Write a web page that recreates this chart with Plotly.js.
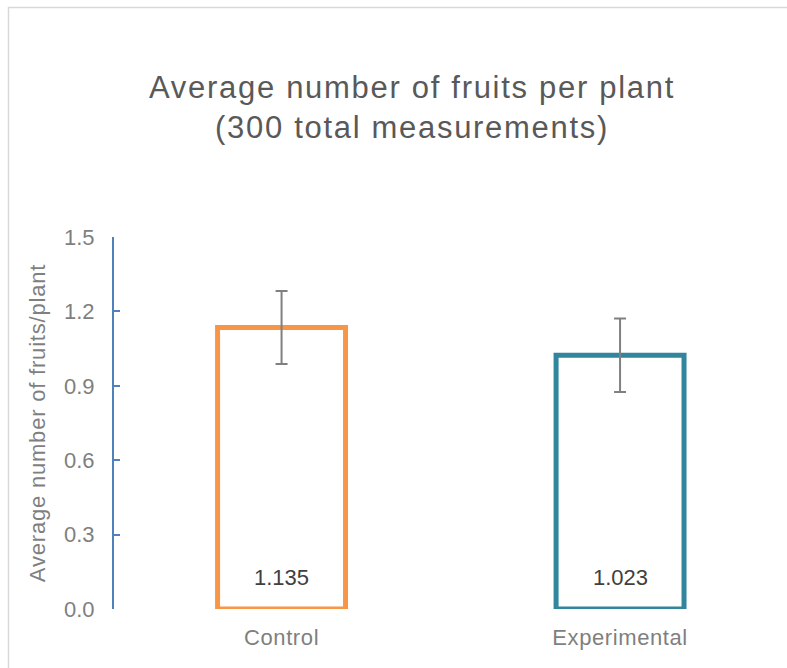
<!DOCTYPE html>
<html>
<head>
<meta charset="utf-8">
<script src="https://cdn.plot.ly/plotly-3.0.1.min.js"></script>
<style>
html,body{margin:0;padding:0;background:#fff;}
#chart{width:787px;height:668px;}
.gtitle{letter-spacing:1.7px;}
.ytitle{letter-spacing:0.8px;}
.xtick text{letter-spacing:0.6px;}
</style>
</head>
<body>
<div id="chart"></div>
<script>
var categories = ["Control", "Experimental"];
var values = [1.135, 1.023];
var errors = [0.147, 0.148];
var barColors = ["#F79646", "#31859C"];
var yTicks = [0, 0.3, 0.6, 0.9, 1.2, 1.5];
var yTickLabels = ["0.0", "0.3", "0.6", "0.9", "1.2", "1.5"];

var W = 787, H = 668;
var mL = 114, mR = 0, mT = 237, mB = 59;
var plotW = W - mL - mR, plotH = H - mT - mB;
function px2x(px){ return (px - mL) / plotW; }
function px2y(py){ return (H - mB - py) / plotH; }

var trace = {
  type: "bar",
  x: categories,
  y: values,
  marker: {color: "rgba(255,255,255,0)", line: {color: barColors, width: 5}},
  error_y: {type: "data", array: errors, visible: true, color: "#808080", thickness: 2, width: 6},
  hoverinfo: "none"
};

var annotations = categories.map(function(c, i){
  return {
    x: c, y: 0, xref: "x", yref: "y",
    text: values[i].toFixed(3), showarrow: false,
    yanchor: "bottom", yshift: 17,
    font: {family: "Liberation Sans, Arial, sans-serif", size: 22, color: "#404040"}
  };
});

var layout = {
  width: W, height: H,
  margin: {l: mL, r: mR, t: mT, b: mB, pad: 0},
  paper_bgcolor: "#ffffff", plot_bgcolor: "#ffffff",
  showlegend: false,
  bargap: 0.622,
  font: {family: "Liberation Sans, Arial, sans-serif", color: "#7F7F7F"},
  title: {
    text: "Average number of fruits per plant<br>(300 total measurements)",
    font: {family: "Liberation Sans, Arial, sans-serif", size: 31, color: "#595959"},
    xref: "container", x: 412 / W, xanchor: "center",
    yref: "container", y: 1 - 98 / H, yanchor: "top"
  },
  xaxis: {
    type: "category",
    range: [-0.495, -0.495 + plotW / 338.5],
    showline: false, showgrid: false, zeroline: false, ticks: "",
    tickfont: {size: 22, color: "#7F7F7F"},
    ticklabelstandoff: 13
  },
  yaxis: {
    range: [0, 1.5],
    tickvals: yTicks, ticktext: yTickLabels,
    showline: true, linecolor: "#4F81BD", linewidth: 2,
    ticks: "inside", ticklen: 6, tickcolor: "#4F81BD", tickwidth: 2,
    showgrid: false, zeroline: false,
    tickfont: {size: 22, color: "#7F7F7F"},
    ticklabelstandoff: 13,
    title: {text: "Average number of fruits/plant", font: {size: 22, color: "#7F7F7F"}, standoff: 12}
  },
  annotations: annotations,
  shapes: [{
    type: "rect", xref: "paper", yref: "paper",
    x0: px2x(8.5), x1: px2x(W + 20), y0: px2y(H + 20), y1: px2y(7.5),
    line: {color: "#D9D9D9", width: 1.5}, fillcolor: "rgba(0,0,0,0)", layer: "below"
  }]
};

Plotly.newPlot("chart", [trace], layout, {displayModeBar: false, staticPlot: true});
</script>
</body>
</html>
